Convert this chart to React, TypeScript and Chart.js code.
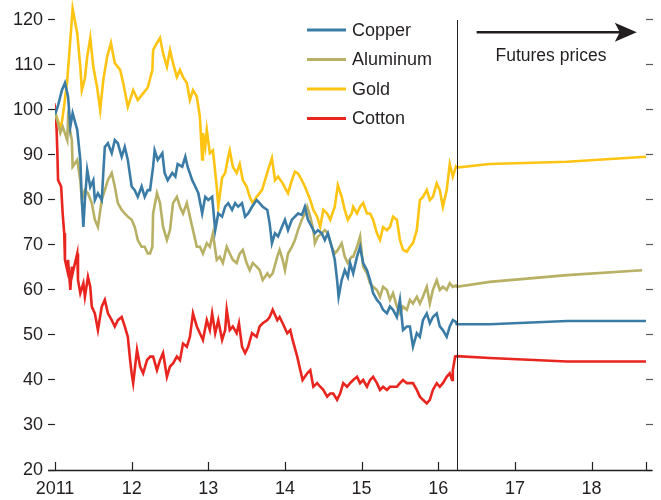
import React, { useEffect, useRef } from 'react';
import { Chart, registerables } from 'chart.js';

Chart.register(...registerables);

const FONT = '"Liberation Sans", Arial, sans-serif';
const TEXT = '#231f20';

const seriesNames = ['Copper', 'Aluminum', 'Gold', 'Cotton'];
const seriesColors = ['#3b7ca6', '#b8b064', '#fdc413', '#e8251f'];

// [decimal year (11 = 2011), index value]
const copper: [number, number][] = [
  [11.0, 99], [11.04, 101], [11.09, 104.4], [11.13, 106], [11.17, 103], [11.2, 96.3], [11.23, 99.3], [11.29, 95.6],
  [11.33, 88.9], [11.35, 80], [11.37, 74], [11.39, 80], [11.42, 86.7], [11.46, 82.9], [11.5, 84.4], [11.52, 80],
  [11.56, 81.5], [11.61, 80], [11.63, 86], [11.65, 91.8], [11.69, 92.6], [11.74, 90.4], [11.78, 93.3], [11.82, 92.6],
  [11.87, 89.6], [11.91, 91.8], [11.95, 88.9], [12.0, 83], [12.04, 82.2], [12.08, 80.7], [12.13, 83], [12.17, 80.7],
  [12.21, 82.2], [12.24, 82.2], [12.28, 87.4], [12.3, 91], [12.34, 88.9], [12.4, 90.4], [12.43, 86], [12.47, 84.4],
  [12.53, 86], [12.57, 85.2], [12.6, 88], [12.66, 87.4], [12.7, 89.6], [12.73, 87.4], [12.79, 84.4], [12.83, 83],
  [12.87, 81.5], [12.92, 77], [12.96, 80.7], [13.0, 80], [13.05, 80.7], [13.09, 73.3], [13.13, 77], [13.18, 76.3],
  [13.22, 78.5], [13.26, 79.3], [13.31, 77.8], [13.35, 79.3], [13.39, 78.5], [13.44, 79.3], [13.48, 76.3], [13.52, 77],
  [13.57, 78.5], [13.63, 80], [13.67, 79.3], [13.71, 78.5], [13.77, 77.8], [13.8, 74.8], [13.83, 70.4], [13.87, 72.6],
  [13.91, 71.9], [13.96, 74], [14.0, 75.6], [14.04, 73.3], [14.09, 75.6], [14.13, 76.3], [14.17, 77], [14.22, 76.7],
  [14.26, 78.5], [14.3, 75.6], [14.35, 74], [14.39, 72.6], [14.43, 73.3], [14.48, 72.6], [14.52, 71.1], [14.56, 72.6],
  [14.61, 69.6], [14.65, 66.7], [14.68, 62.2], [14.7, 58.5], [14.74, 62.2], [14.78, 64.4], [14.82, 62.9], [14.85, 66],
  [14.89, 63.7], [14.94, 67.4], [14.98, 69.6], [15.02, 66], [15.07, 64.4], [15.11, 62.2], [15.15, 59.3], [15.2, 57.8],
  [15.24, 57], [15.28, 55.6], [15.33, 54.8], [15.37, 56.3], [15.41, 55.6], [15.46, 54], [15.5, 57.8], [15.54, 51.1],
  [15.59, 51.9], [15.63, 51.9], [15.67, 47.4], [15.72, 50.4], [15.76, 49.6], [15.8, 53.3], [15.85, 54.8], [15.89, 52.6],
  [15.93, 54], [15.98, 54.8], [16.02, 51.9], [16.06, 51.1], [16.11, 49.6], [16.15, 51.9], [16.19, 53.3], [16.23, 52.9],
  [16.24, 52.4], [16.67, 52.4], [17.68, 53.1], [18.71, 53.1],
];

const aluminum: [number, number][] = [
  [11.0, 99.3], [11.04, 97], [11.07, 94.9], [11.1, 96.3], [11.16, 93.3], [11.17, 97.8], [11.22, 93.3], [11.23, 87.4],
  [11.29, 88.9], [11.33, 84.4], [11.35, 80], [11.39, 82.2], [11.43, 81.5], [11.48, 79.3], [11.52, 75.6], [11.56, 74],
  [11.61, 80], [11.65, 82.2], [11.69, 84.4], [11.74, 86], [11.78, 83], [11.82, 79.3], [11.87, 77.8], [11.91, 77],
  [11.95, 76.3], [12.0, 75.6], [12.04, 74], [12.08, 71.1], [12.13, 69.6], [12.17, 69.6], [12.21, 68.1], [12.24, 68.1],
  [12.27, 69.6], [12.28, 77], [12.33, 81.5], [12.37, 79.3], [12.41, 74], [12.46, 71.1], [12.5, 73.3], [12.54, 79.3],
  [12.59, 80.7], [12.63, 78.5], [12.67, 77], [12.72, 79.3], [12.76, 76.3], [12.8, 73.3], [12.85, 69.6], [12.89, 69.6],
  [12.93, 68.1], [12.98, 70.4], [13.02, 69.6], [13.06, 72.6], [13.11, 66.7], [13.15, 67.4], [13.19, 66], [13.24, 69.6],
  [13.28, 68.1], [13.32, 66.7], [13.37, 66], [13.41, 68.1], [13.45, 68.9], [13.5, 66], [13.54, 64.4], [13.58, 66],
  [13.63, 65.2], [13.67, 64.4], [13.71, 62.2], [13.77, 63.7], [13.8, 62.9], [13.84, 63.7], [13.9, 67.4], [13.93, 68.9],
  [13.97, 66.7], [14.0, 64.4], [14.04, 68.1], [14.09, 69.6], [14.13, 71.1], [14.17, 73.3], [14.22, 75.6], [14.26, 77],
  [14.29, 78.5], [14.33, 76.3], [14.37, 73.3], [14.39, 70.4], [14.43, 71.9], [14.48, 72.6], [14.52, 73.3], [14.56, 72.6],
  [14.61, 69.6], [14.65, 68.1], [14.69, 68.9], [14.74, 70.4], [14.78, 67.4], [14.82, 66], [14.87, 67.4], [14.89, 67.4],
  [14.94, 69.6], [14.98, 71.9], [15.02, 65.2], [15.07, 63.7], [15.11, 61.5], [15.15, 60.7], [15.2, 60], [15.24, 58.5],
  [15.28, 60.7], [15.33, 60], [15.37, 57.8], [15.41, 59.3], [15.46, 56.3], [15.5, 54.8], [15.54, 56.3], [15.59, 55.6],
  [15.63, 57.8], [15.67, 57], [15.72, 58.5], [15.76, 57], [15.8, 58.5], [15.85, 60.7], [15.89, 57], [15.93, 60],
  [15.98, 62.2], [16.02, 60], [16.06, 60.7], [16.11, 60], [16.15, 61.5], [16.19, 60.7], [16.23, 61],
  [16.24, 60.7], [16.67, 61.8], [17.68, 63.3], [18.66, 64.4],
];

const gold: [number, number][] = [
  [11.0, 99.5], [11.04, 97.5], [11.08, 96.2], [11.12, 101], [11.16, 106.7], [11.2, 115.6], [11.23, 122.5], [11.29, 117],
  [11.33, 109.6], [11.35, 104.4], [11.39, 107], [11.42, 111.8], [11.46, 116], [11.5, 109.6], [11.55, 105], [11.59, 100],
  [11.63, 106.7], [11.68, 111.8], [11.73, 114.9], [11.78, 110.4], [11.85, 108.9], [11.89, 106], [11.95, 100.7], [12.02, 104.4],
  [12.08, 102.2], [12.15, 103.7], [12.21, 105], [12.27, 108.9], [12.28, 113.3], [12.33, 114.9], [12.37, 116], [12.41, 112.6],
  [12.46, 109.6], [12.5, 113.3], [12.54, 110.4], [12.59, 107.3], [12.63, 108.9], [12.67, 107.3], [12.72, 106], [12.76, 102.2],
  [12.8, 104.4], [12.85, 103], [12.89, 98.5], [12.92, 89], [12.93, 94.9], [12.96, 91.8], [12.98, 95.6], [13.02, 90.4],
  [13.06, 91], [13.11, 83], [13.13, 78.5], [13.18, 85], [13.22, 86], [13.26, 89.6], [13.28, 91], [13.32, 87.4],
  [13.37, 86], [13.41, 88], [13.45, 84.4], [13.5, 83], [13.54, 80.7], [13.58, 79.3], [13.63, 80.7], [13.7, 82.2],
  [13.74, 84.4], [13.78, 86.7], [13.83, 89.3], [13.87, 84.4], [13.91, 85.2], [13.97, 83.7], [14.04, 81.5], [14.09, 84.4],
  [14.13, 86.3], [14.17, 85.9], [14.22, 84.4], [14.26, 83], [14.33, 80], [14.37, 77.8], [14.42, 76.3], [14.46, 74],
  [14.5, 77.8], [14.55, 77], [14.59, 75.6], [14.65, 78.5], [14.69, 83.3], [14.74, 80.7], [14.78, 77.8], [14.82, 75.6],
  [14.87, 77], [14.89, 78.5], [14.94, 77], [14.98, 78.5], [15.02, 79.3], [15.07, 77], [15.11, 77], [15.15, 75.6],
  [15.2, 72.6], [15.24, 71.1], [15.28, 74], [15.33, 73.3], [15.37, 74], [15.41, 76.3], [15.46, 75.6], [15.5, 71.1],
  [15.54, 68.9], [15.59, 68.5], [15.63, 69.6], [15.67, 70.4], [15.72, 73.3], [15.76, 80], [15.8, 80.7], [15.85, 82.2],
  [15.89, 80], [15.93, 80.7], [15.98, 83.7], [16.02, 82.2], [16.06, 78.5], [16.11, 82.2], [16.15, 88], [16.19, 85.2],
  [16.23, 87.4],
  [16.24, 87.2], [16.67, 88], [17.68, 88.5], [18.71, 89.6],
];

const cotton: [number, number][] = [
  [10.99, 101.5], [11.0, 100.5], [11.02, 96], [11.03, 91], [11.04, 84.4], [11.08, 83], [11.1, 77], [11.12, 72.6],
  [11.13, 66.7], [11.16, 64.4], [11.17, 66.7], [11.2, 60], [11.22, 65.2], [11.23, 63.7], [11.29, 68.1], [11.3, 62.2],
  [11.33, 59.3], [11.37, 61.5], [11.39, 58.5], [11.43, 62.9], [11.46, 60.7], [11.48, 56.3], [11.52, 54.8], [11.56, 51.1],
  [11.61, 56.3], [11.65, 57.8], [11.69, 54.8], [11.74, 53.3], [11.78, 51.9], [11.82, 53.3], [11.87, 54], [11.91, 51.9],
  [11.95, 49.6], [11.98, 44.4], [12.0, 41.5], [12.02, 39.3], [12.07, 46.7], [12.11, 43], [12.15, 41.5], [12.2, 44.4],
  [12.24, 45.2], [12.28, 45.2], [12.33, 42.2], [12.37, 44.4], [12.41, 46], [12.46, 40.7], [12.5, 43], [12.54, 43.7],
  [12.59, 45.2], [12.63, 44.4], [12.67, 48.1], [12.72, 47.4], [12.76, 49.6], [12.8, 54.8], [12.85, 51.9], [12.89, 50.4],
  [12.93, 48.9], [12.98, 53.3], [13.02, 51.1], [13.05, 54.8], [13.09, 50.4], [13.13, 53.3], [13.18, 48.9], [13.22, 51.1],
  [13.24, 55.6], [13.28, 51.1], [13.32, 51.9], [13.37, 50.4], [13.4, 52.6], [13.44, 47.4], [13.48, 46], [13.52, 47.4],
  [13.57, 50.4], [13.63, 49.6], [13.67, 51.9], [13.71, 52.6], [13.77, 53.3], [13.8, 54], [13.84, 55.6], [13.9, 53.3],
  [13.93, 54], [13.97, 52.6], [14.03, 50.4], [14.07, 51.1], [14.1, 48.9], [14.16, 45.2], [14.2, 42.2], [14.23, 40],
  [14.29, 41.5], [14.33, 42.2], [14.37, 38.5], [14.42, 39.3], [14.46, 38.5], [14.5, 37.8], [14.55, 36.3], [14.59, 37],
  [14.63, 37], [14.68, 35.6], [14.72, 37], [14.76, 39.3], [14.81, 38.5], [14.85, 39.3], [14.89, 40], [14.94, 40.7],
  [14.98, 39.3], [15.02, 40], [15.07, 38.5], [15.11, 40], [15.15, 40.7], [15.2, 39.3], [15.24, 37.8], [15.28, 38.5],
  [15.33, 37.8], [15.37, 38.5], [15.41, 38.5], [15.46, 38.5], [15.5, 39.3], [15.54, 40], [15.59, 39.3], [15.63, 39.3],
  [15.67, 39.3], [15.72, 37.8], [15.76, 36.3], [15.8, 35.6], [15.85, 34.8], [15.89, 35.6], [15.93, 37.8], [15.98, 39.3],
  [16.02, 38.5], [16.06, 39.3], [16.11, 40.7], [16.15, 41.5], [16.18, 40], [16.19, 42.2], [16.22, 45.2],
  [16.24, 45.3], [16.67, 44.9], [17.68, 44.1], [18.71, 44.1],
];

const seriesData = [copper, aluminum, gold, cotton];

const yTickValues = [20, 30, 40, 50, 60, 70, 80, 90, 100, 110, 120];
const xTickValues = [11, 12, 13, 14, 15, 16, 17, 18, 18.71];
const xTickLabels: Record<string, string> = {
  '11': '2011', '12': '12', '13': '13', '14': '14', '15': '15', '16': '16', '17': '17', '18': '18',
};
const X_MIN = 11;
const X_MAX = 18.71;
const Y_MIN = 20;
const Y_MAX = 124.44;
const FUTURES_START = 16.24;
const FUTURES_LABEL = 'Futures prices';

const overlayPlugin = {
  id: 'overlay',
  afterDraw(chart: any) {
    const { ctx, chartArea: a, scales } = chart;
    const xs = scales.x;
    const ys = scales.y;
    ctx.save();
    // x axis line
    ctx.strokeStyle = TEXT;
    ctx.lineWidth = 1.3;
    ctx.beginPath();
    ctx.moveTo(a.left - 7, a.bottom + 0.5);
    ctx.lineTo(a.right + 6, a.bottom + 0.5);
    ctx.stroke();
    // inward x ticks
    ctx.lineWidth = 1.2;
    ctx.beginPath();
    xTickValues.forEach((v) => {
      const px = Math.round(xs.getPixelForValue(v)) + 0.5;
      ctx.moveTo(px, a.bottom);
      ctx.lineTo(px, a.bottom - 8);
    });
    ctx.stroke();
    // vertical divider at start of futures
    const vx = Math.round(xs.getPixelForValue(FUTURES_START)) + 0.5;
    ctx.lineWidth = 1;
    ctx.beginPath();
    ctx.moveTo(vx, ys.getPixelForValue(120));
    ctx.lineTo(vx, a.bottom);
    ctx.stroke();
    // arrow
    const ay = ys.getPixelForValue(117.3);
    const x0 = xs.getPixelForValue(16.5);
    const x1 = xs.getPixelForValue(18.59);
    ctx.lineWidth = 2.5;
    ctx.beginPath();
    ctx.moveTo(x0, ay);
    ctx.lineTo(x1 - 14, ay);
    ctx.stroke();
    ctx.fillStyle = TEXT;
    ctx.beginPath();
    ctx.moveTo(x1, ay);
    ctx.lineTo(x1 - 22, ay - 9.5);
    ctx.lineTo(x1 - 17, ay);
    ctx.lineTo(x1 - 22, ay + 9.5);
    ctx.closePath();
    ctx.fill();
    // futures label
    ctx.font = `17.5px ${FONT}`;
    ctx.textAlign = 'center';
    ctx.textBaseline = 'middle';
    ctx.fillText(FUTURES_LABEL, xs.getPixelForValue(17.47), ys.getPixelForValue(112));
    // legend
    ctx.font = `18px ${FONT}`;
    ctx.textAlign = 'left';
    seriesNames.forEach((name, i) => {
      const ly = 30 + i * 29.5;
      ctx.strokeStyle = seriesColors[i];
      ctx.lineWidth = 3;
      ctx.beginPath();
      ctx.moveTo(307, ly);
      ctx.lineTo(346, ly);
      ctx.stroke();
      ctx.fillStyle = TEXT;
      ctx.fillText(name, 352, ly + 1);
    });
    ctx.restore();
  },
};

export default function App() {
  const ref = useRef<HTMLCanvasElement | null>(null);

  useEffect(() => {
    document.body.style.margin = '0';
    const canvas = ref.current;
    if (!canvas) return;
    const chart = new Chart(canvas, {
      type: 'line',
      data: {
        datasets: seriesNames.map((name, i) => ({
          label: name,
          data: seriesData[i].map(([x, y]) => ({ x, y })),
          borderColor: seriesColors[i],
          backgroundColor: seriesColors[i],
          borderWidth: 2.6,
          pointRadius: 0,
          tension: 0,
          fill: false,
          xAxisID: 'x',
          yAxisID: 'y',
        })),
      },
      options: {
        responsive: false,
        animation: false,
        events: [],
        layout: { padding: 0 },
        plugins: {
          legend: { display: false },
          tooltip: { enabled: false },
        },
        scales: {
          x: {
            type: 'linear',
            position: 'bottom',
            min: X_MIN,
            max: X_MAX,
            afterBuildTicks: (scale: any) => {
              scale.ticks = xTickValues.map((v) => ({ value: v }));
            },
            afterFit: (scale: any) => {
              scale.height = 30;
            },
            grid: { display: true, drawOnChartArea: false, drawTicks: false },
            border: { display: false },
            ticks: {
              autoSkip: false,
              maxRotation: 0,
              padding: 8,
              color: TEXT,
              font: { family: FONT, size: 18 },
              callback: (v: any) => xTickLabels[String(v)] ?? '',
            },
          },
          y: {
            type: 'linear',
            position: 'left',
            min: Y_MIN,
            max: Y_MAX,
            afterBuildTicks: (scale: any) => {
              scale.ticks = yTickValues.map((v) => ({ value: v }));
            },
            afterFit: (scale: any) => {
              scale.width = 55;
              scale.paddingTop = 0;
              scale.paddingBottom = 0;
            },
            grid: { display: true, drawOnChartArea: false, drawTicks: true, tickLength: 7, tickColor: TEXT, tickWidth: 1.2 },
            border: { display: false },
            ticks: {
              padding: 5,
              color: TEXT,
              font: { family: FONT, size: 18 },
            },
          },
          y2: {
            type: 'linear',
            position: 'right',
            min: Y_MIN,
            max: Y_MAX,
            afterBuildTicks: (scale: any) => {
              scale.ticks = yTickValues.map((v) => ({ value: v }));
            },
            afterFit: (scale: any) => {
              scale.width = 15;
              scale.paddingTop = 0;
              scale.paddingBottom = 0;
            },
            grid: { display: true, drawOnChartArea: false, drawTicks: true, tickLength: 7, tickColor: '#5a5a5a', tickWidth: 1.2 },
            border: { display: false },
            ticks: { display: false },
          },
        },
      },
      plugins: [overlayPlugin],
    } as any);
    return () => chart.destroy();
  }, []);

  return (
    <div style={{ width: 661, height: 500 }}>
      <canvas ref={ref} width={661} height={500} style={{ display: 'block' }} />
    </div>
  );
}
